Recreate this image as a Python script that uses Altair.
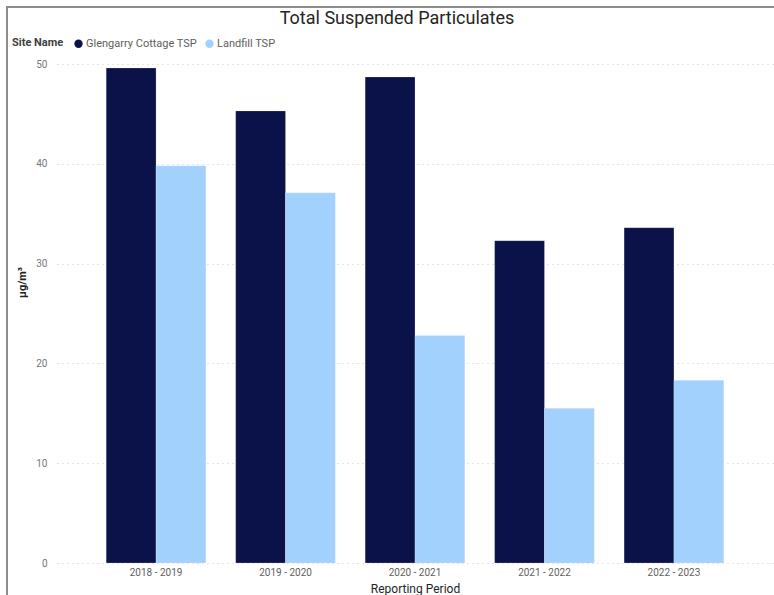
import altair as alt
import pandas as pd

# Reporting periods and annual average TSP per monitoring site (µg/m³)
periods = ["2018 - 2019", "2019 - 2020", "2020 - 2021", "2021 - 2022", "2022 - 2023"]
glengarry = [49.6, 45.3, 48.7, 32.3, 33.6]
landfill = [39.8, 37.1, 22.8, 15.5, 18.3]
sites = ["Glengarry Cottage TSP", "Landfill TSP"]
site_colors = ["#0B1249", "#A3D1FE"]
y_ticks = [0, 10, 20, 30, 40, 50]

rows = []
for p, g, l in zip(periods, glengarry, landfill):
    rows.append({"period": p, "site": sites[0], "value": g})
    rows.append({"period": p, "site": sites[1], "value": l})
df = pd.DataFrame(rows)

FONT = "Roboto"
W, H = 716, 499

bars = alt.Chart(df).mark_bar(stroke="#ffffff", strokeOpacity=0.35, strokeWidth=0.6).encode(
    x=alt.X(
        "period:N", sort=periods, title="Reporting Period",
        scale=alt.Scale(paddingInner=0.23, paddingOuter=0.38),
        axis=alt.Axis(labelAngle=0, domain=False, ticks=False, labelPadding=4,
                      labelFontSize=10, labelColor="#605E5C", labelFont=FONT,
                      titleFontSize=12, titleColor="#252423", titleFont=FONT,
                      titleFontWeight="normal", titlePadding=6),
    ),
    xOffset=alt.XOffset("site:N", sort=sites, scale=alt.Scale(paddingInner=0, paddingOuter=0)),
    y=alt.Y(
        "value:Q", title="µg/m³",
        scale=alt.Scale(domain=[0, 50], nice=False),
        axis=alt.Axis(values=y_ticks, domain=False, ticks=False, labelPadding=10,
                      labelFontSize=10, labelColor="#777777", labelFont=FONT,
                      grid=True, gridDash=[1, 4], gridColor="#c8c8c8", gridWidth=1,
                      titleFontSize=11, titleColor="#252423", titleFont=FONT,
                      titleFontWeight="bold", titleX=-35, titleY=218,
                      titleAngle=270, titleBaseline="middle", titleAlign="center"),
    ),
    color=alt.Color(
        "site:N", sort=sites,
        scale=alt.Scale(domain=sites, range=site_colors),
        legend=alt.Legend(
            title="Site Name", orient="none", legendX=-45, legendY=-26,
            direction="horizontal", titleOrient="left", symbolType="circle",
            symbolSize=70, symbolStrokeWidth=0, labelFontSize=11, labelColor="#605E5C",
            labelFont=FONT, titleFont=FONT, titleFontSize=11, titleFontWeight="bold",
            titleColor="#404040", columnPadding=6, labelOffset=2, titlePadding=9,
        ),
    ),
)

# Card frame drawn along the top and left edges
frame_df = pd.DataFrame({"edge": ["left", "top"]})
frame_left = alt.Chart(frame_df).transform_filter("datum.edge == 'left'").mark_rule(
    color="#8c8c8c", strokeWidth=2
).encode(x=alt.value(-50), y=alt.value(-57), y2=alt.value(540))
frame_top = alt.Chart(frame_df).transform_filter("datum.edge == 'top'").mark_rule(
    color="#8c8c8c", strokeWidth=2
).encode(x=alt.value(-51), x2=alt.value(730), y=alt.value(-57))

chart = alt.layer(bars, frame_left, frame_top).properties(
    width=W, height=H,
    title=alt.TitleParams("Total Suspended Particulates", anchor="middle", dx=-18, dy=34,
                          fontSize=18, font=FONT, fontWeight="normal", color="#252423",
                          offset=12),
    autosize=alt.AutoSizeParams(type="none"),
    padding={"left": 57, "top": 64, "right": 1, "bottom": 32},
    background="#ffffff",
).configure_view(strokeWidth=0, stroke="transparent")

chart.save("out.html", embed_options={"renderer": "svg", "actions": False})
